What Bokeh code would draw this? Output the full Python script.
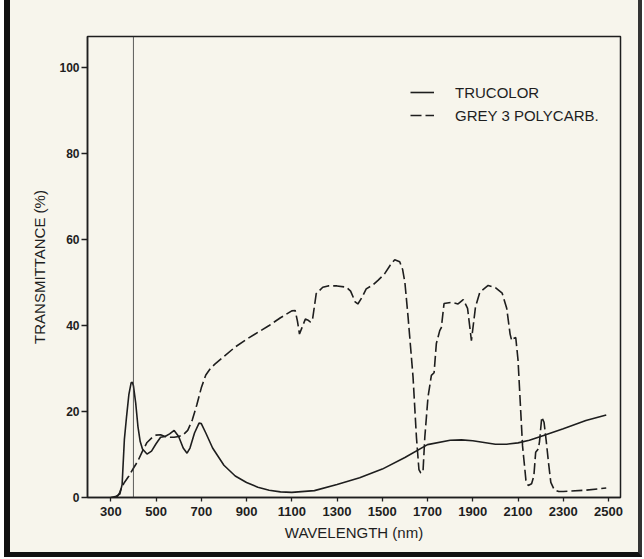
from bokeh.plotting import figure
from bokeh.models import Span, Legend, LegendItem, FixedTicker
from bokeh.embed import file_html
from bokeh.resources import INLINE

# TRUCOLOR (solid)
tru_nm = [300, 320, 330, 340, 350, 360, 370, 380, 390, 395, 400, 410, 420, 430, 440, 460, 480, 500,
          520, 540, 560, 580, 600, 620, 637, 650, 670, 690, 700, 720, 750, 800, 850, 900, 950, 1000,
          1050, 1100, 1200, 1300, 1400, 1500, 1600, 1700, 1800, 1850, 1900, 2000, 2050, 2100, 2150,
          2200, 2300, 2400, 2490]
tru_t = [0, 0.2, 0.5, 0.8, 3, 13.5, 19, 24, 26.7, 26.8, 26, 22, 16.5, 13, 11.3, 10.1, 10.8, 12.5,
         14, 14.2, 14.8, 15.6, 14.2, 11.5, 10.3, 11.5, 15, 17.3, 17.2, 15, 11.5, 7.5, 5, 3.5, 2.4, 1.7,
         1.3, 1.2, 1.6, 3.0, 4.6, 6.6, 9.3, 12.3, 13.3, 13.4, 13.2, 12.4, 12.4, 12.7, 13.3,
         14.2, 16.0, 17.9, 19.2]

# GREY 3 POLYCARB. (dashed)
poly_nm = [320, 330, 340, 345, 360, 380, 400, 420, 440, 460, 480, 500, 520, 540, 560, 580, 600, 620,
           640, 660, 680, 700, 720, 740, 760, 800, 850, 900, 950, 1000, 1050, 1100, 1115, 1125, 1134,
           1145, 1160, 1170, 1183, 1192, 1208, 1237, 1260, 1300, 1341, 1360, 1380, 1392, 1410, 1429,
           1460, 1481, 1510, 1535, 1555, 1577, 1590, 1600, 1614, 1636, 1651, 1662, 1670, 1680, 1688,
           1702, 1717, 1729, 1739, 1754, 1761, 1773, 1806, 1835, 1858, 1877, 1894, 1912, 1931, 1968,
           2000, 2030, 2050, 2065, 2072, 2080, 2090, 2100, 2110, 2120, 2135, 2145, 2160, 2170, 2178,
           2190, 2195, 2205, 2215, 2225, 2235, 2245, 2260, 2280, 2300, 2400, 2490]
poly_t = [0, 0.3, 1.2, 2, 3.5, 5, 6.8, 8.5, 10.8, 12.8, 13.8, 14.5, 14.6, 14.2, 14, 14, 14.2, 14.6,
          15.6, 18, 21.5, 25.5, 28.5, 30, 31, 32.8, 35, 36.8, 38.4, 40, 41.8, 43.4, 43.5, 41, 38,
          39.5, 41.5, 41.3, 40.8, 41.5, 47.4, 48.9, 49.2, 49.2, 48.9, 48, 45.5, 45, 46.5, 48.5,
          49.5, 50.5, 52, 54, 55.3, 54.8, 53, 50, 42, 28, 14, 6.5, 5.7, 6, 14,
          23.3, 28.4, 29, 35.8, 38.8, 39.5, 45.1, 45.4, 45, 46, 44, 36.5, 44.3, 47.7, 49.3,
          48.8, 47.5, 44, 38, 36.5, 37, 37.2, 32, 22, 12, 4, 2.8, 3.2, 5, 10.5,
          11.3, 13, 18.7, 17.5, 13, 8, 3.5, 1.8, 1.4, 1.4, 1.7, 2.2]

x_ticks = [300, 500, 700, 900, 1100, 1300, 1500, 1700, 1900, 2100, 2300, 2500]
y_ticks = [0, 20, 40, 60, 80, 100]
marker_nm = 400

BG = "#f7f5ec"
INK = "#1e1e1e"
FONT = "Liberation Sans"

p = figure(width=628, height=552, x_range=(197, 2553), y_range=(0, 107.2),
           output_backend="svg", toolbar_location=None,
           min_border_left=77, min_border_right=28, min_border_top=36, min_border_bottom=60)
p.styles = {"box-sizing": "content-box", "margin-left": "4px",
            "border-left": "6px solid #111111", "border-right": "4px solid #333333",
            "border-bottom": "5px solid #111111", "background": BG}
p.background_fill_color = BG
p.border_fill_color = BG
p.outline_line_color = INK
p.outline_line_width = 1.5
p.grid.visible = False

r_tru = p.line(tru_nm, tru_t, line_color=INK, line_width=1.6)
r_poly = p.line(poly_nm, poly_t, line_color=INK, line_width=1.6, line_dash="11 4")
p.add_layout(Span(location=marker_nm, dimension="height", line_color="#333333", line_width=0.8))

for ax in (p.xaxis[0], p.yaxis[0]):
    ax.axis_line_color = INK
    ax.axis_line_width = 1.5
    ax.major_tick_line_color = INK
    ax.major_tick_line_width = 1.3
    ax.major_tick_in = 0
    ax.minor_tick_line_color = None
    ax.major_label_text_color = INK
    ax.major_label_text_font = FONT
    ax.major_label_text_font_style = "bold"
    ax.axis_label_text_font = FONT
    ax.axis_label_text_font_style = "normal"
    ax.axis_label_text_color = INK
    ax.axis_label_text_font_size = "15px"

p.xaxis.ticker = FixedTicker(ticks=x_ticks)
p.yaxis.ticker = FixedTicker(ticks=y_ticks)
p.xaxis.major_tick_out = 4
p.yaxis.major_tick_out = 6
p.xaxis.major_label_text_font_size = "13px"
p.yaxis.major_label_text_font_size = "12px"
p.xaxis.major_label_standoff = 5
p.yaxis.major_label_standoff = 2
p.xaxis.axis_label = "WAVELENGTH (nm)"
p.yaxis.axis_label = "TRANSMITTANCE (%)"
p.xaxis.axis_label_standoff = 5
p.yaxis.axis_label_standoff = 8

legend = Legend(items=[LegendItem(label="TRUCOLOR", renderers=[r_tru]),
                       LegendItem(label="GREY 3 POLYCARB.", renderers=[r_poly])],
                location=(323, 372), padding=0, margin=0, spacing=3,
                glyph_width=24, glyph_height=20, label_standoff=21,
                label_text_font=FONT, label_text_font_size="15px", label_text_color=INK,
                border_line_color=None, background_fill_alpha=0)
p.add_layout(legend, "center")

open("out.html", "w").write(file_html(p, INLINE))
